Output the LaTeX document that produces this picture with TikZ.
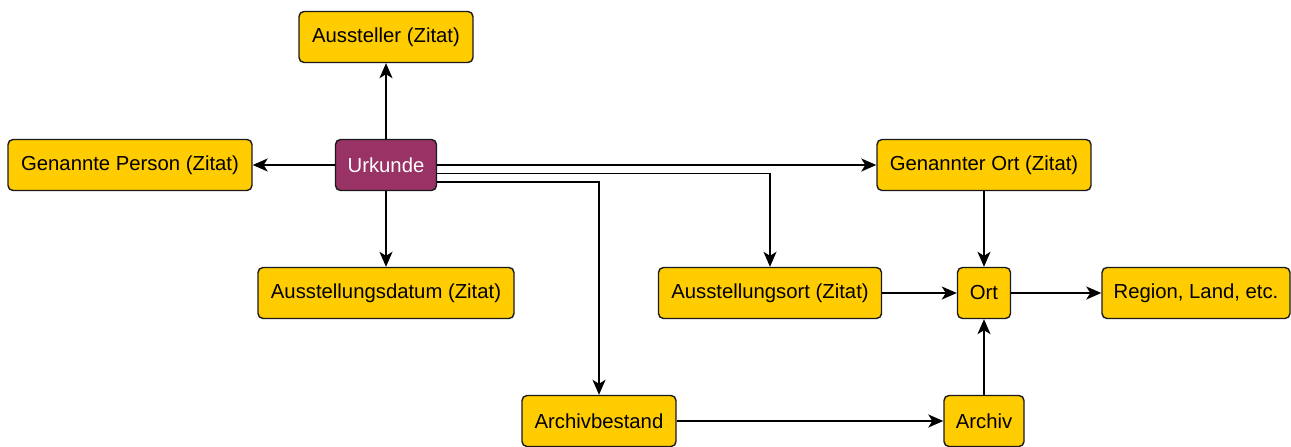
\documentclass[tikz,border=0pt]{standalone}
\usepackage{fontspec}
\setmainfont{Liberation Sans}
\usetikzlibrary{arrows.meta}
\definecolor{boxyellow}{HTML}{FFCC00}
\definecolor{boxmaroon}{HTML}{993366}
\definecolor{edgedark}{HTML}{1A1A1A}
\begin{document}
\begin{tikzpicture}[x=1pt,y=-1pt,
  box/.style={draw=edgedark,line width=1.4pt,rounded corners=5pt,fill=boxyellow,
    minimum height=51pt,inner sep=0pt,font=\fontsize{20.3}{23}\selectfont,text=black},
  mainbox/.style={box,fill=boxmaroon,text=white},
  conn/.style={draw=black,line width=1.7pt,-{Stealth[length=15pt,width=13pt,inset=4pt]}}
]
\useasboundingbox (0,0) rectangle (1291,447);
\node[box,minimum width=174pt] (auss) at (386,37) {Aussteller (Zitat)};
\node[box,minimum width=244pt] (gperson) at (130,165) {Genannte Person (Zitat)};
\node[mainbox,minimum width=101pt] (urk) at (386,165) {Urkunde};
\node[box,minimum width=214pt] (gort) at (984,165) {Genannter Ort (Zitat)};
\node[box,minimum width=256pt] (adatum) at (386,293) {Ausstellungsdatum (Zitat)};
\node[box,minimum width=223pt] (aort) at (770,293) {Ausstellungsort (Zitat)};
\node[box,minimum width=53pt] (ort) at (984,293) {Ort};
\node[box,minimum width=188pt] (region) at (1196,293) {Region, Land, etc.};
\node[box,minimum width=154pt] (abestand) at (599,421) {Archivbestand};
\node[box,minimum width=80pt] (archiv) at (984,421) {Archiv};

\draw[conn] (urk.north) -- (auss.south);
\draw[conn] (urk.west) -- (gperson.east);
\draw[conn] (urk.south) -- (adatum.north);
\draw[conn] (urk.east) -- (gort.west);
\draw[conn] ([yshift=-8.5pt]urk.east) -| (aort.north);
\draw[conn] ([yshift=-17pt]urk.east) -| (abestand.north);
\draw[conn] (gort.south) -- (ort.north);
\draw[conn] (aort.east) -- (ort.west);
\draw[conn] (ort.east) -- (region.west);
\draw[conn] (abestand.east) -- (archiv.west);
\draw[conn] (archiv.north) -- (ort.south);
\end{tikzpicture}
\end{document}
